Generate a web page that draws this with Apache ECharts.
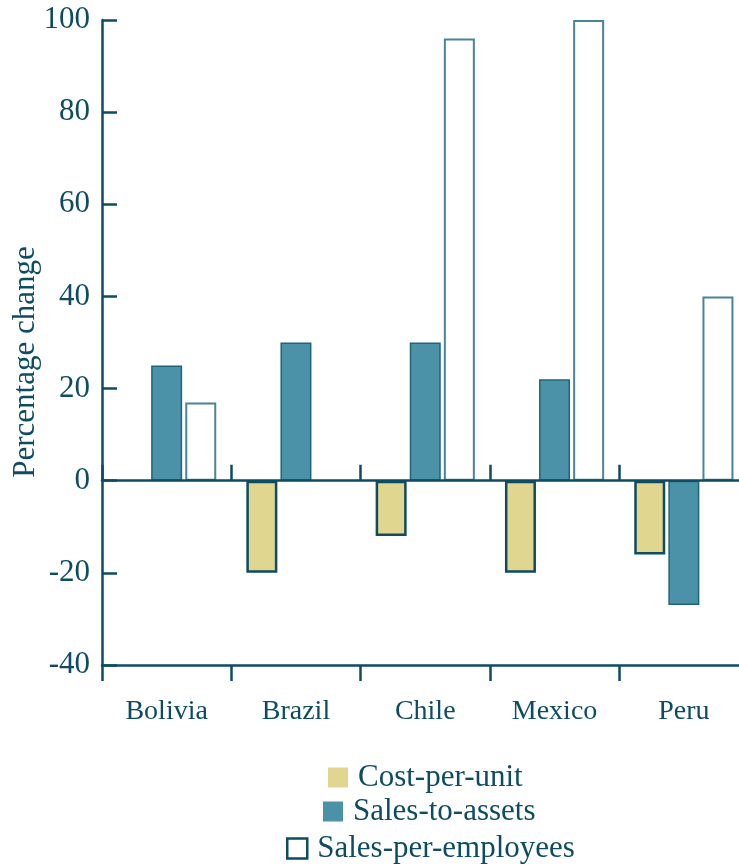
<!DOCTYPE html>
<html>
<head>
<meta charset="utf-8">
<script src="https://cdn.jsdelivr.net/npm/echarts@6/dist/echarts.min.js"></script>
<style>
  html, body { margin: 0; padding: 0; background: #fff; }
  #chart { width: 739px; height: 866px; }
</style>
</head>
<body>
<div id="chart"></div>
<script>
// values
const countries = ['Bolivia', 'Brazil', 'Chile', 'Mexico', 'Peru']
const costPerUnit = [null, -20, -12, -20, -16]
const salesToAssets = [25, 30, 30, 22, -27]
const salesPerEmployees = [17, null, 96, 100, 40]

const dark = '#0d4c61'
const font = '"Liberation Serif", "DejaVu Serif", serif'

const chart = echarts.init(document.getElementById('chart'))

const barBase = {
  type: 'bar',
  barWidth: 31,
  barGap: '10%',
  xAxisIndex: 1
}

chart.setOption({
  backgroundColor: '#fff',
  animation: false,
  textStyle: { fontFamily: font, color: dark },
  // plot runs past the right edge of the canvas, Peru is cut off
  grid: { left: 102, top: 20, bottom: 201, width: 646.5, outerBoundsMode: 'none', containLabel: false },
  legend: [
    { left: 328, top: 762, data: [{ name: 'Cost-per-unit', itemStyle: { borderWidth: 0 } }] },
    { left: 323, top: 796, data: [{ name: 'Sales-to-assets', itemStyle: { borderWidth: 0 } }] },
    { left: 286, top: 833, data: [{ name: 'Sales-per-employees', itemStyle: { borderWidth: 2.5, borderColor: dark } }] }
  ].map((l) => Object.assign({
    icon: 'rect',
    itemWidth: 20,
    itemHeight: 20,
    itemGap: 10,
    padding: 0,
    selectedMode: false,
    textStyle: { fontFamily: font, fontSize: 31, color: dark, padding: [0, 0, 0, 5] }
  }, l)),
  graphic: [{
    type: 'text',
    x: 26,
    y: 362,
    rotation: Math.PI / 2,
    style: {
      text: 'Percentage change',
      fontFamily: font,
      fontSize: 31,
      fill: dark,
      align: 'center',
      verticalAlign: 'middle'
    }
  }],
  xAxis: [
    {
      // line through zero, ticks pointing up
      type: 'category',
      data: countries,
      position: 'top',
      axisLine: { onZero: true, lineStyle: { color: dark, width: 2.5 } },
      axisTick: { show: true, length: 16, lineStyle: { color: dark, width: 2.5 } },
      axisLabel: { show: false },
      z: 5
    },
    {
      type: 'category',
      data: countries,
      position: 'bottom',
      axisLine: { onZero: false, lineStyle: { color: dark, width: 2.5 } },
      axisTick: { show: true, length: 16, lineStyle: { color: dark, width: 2.5 } },
      axisLabel: { margin: 33, fontSize: 28, color: dark, fontFamily: font }
    }
  ],
  yAxis: {
    type: 'value',
    min: -40,
    max: 100,
    interval: 20,
    axisLine: { show: true, lineStyle: { color: dark, width: 2.5 } },
    axisTick: { show: true, inside: true, length: 15, lineStyle: { color: dark, width: 2.5 } },
    axisLabel: { margin: 12, fontSize: 31, color: dark, fontFamily: font },
    splitLine: { show: false }
  },
  series: [
    Object.assign({}, barBase, {
      name: 'Cost-per-unit',
      data: costPerUnit,
      itemStyle: { color: '#e0d68f', borderColor: dark, borderWidth: 2.5 }
    }),
    Object.assign({}, barBase, {
      name: 'Sales-to-assets',
      data: salesToAssets,
      itemStyle: { color: '#4b92a9', borderColor: '#1f6479', borderWidth: 1.5 }
    }),
    Object.assign({}, barBase, {
      name: 'Sales-per-employees',
      data: salesPerEmployees,
      itemStyle: { color: '#ffffff', borderColor: '#4a8497', borderWidth: 2 }
    })
  ]
})
</script>
</body>
</html>
